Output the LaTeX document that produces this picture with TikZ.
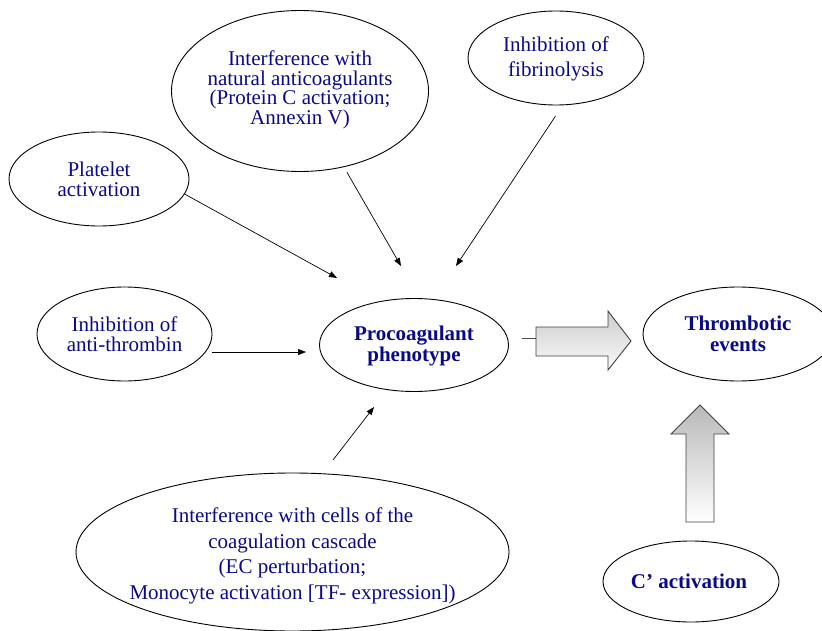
\documentclass[tikz,border=0pt]{standalone}
\usepackage{fontspec}
\setmainfont{Liberation Serif}
\usetikzlibrary{shapes.geometric,arrows.meta}
\definecolor{navy}{RGB}{10,10,135}
\begin{document}
\begin{tikzpicture}[x=1pt,y=-1pt,
 ell/.style={ellipse, draw=black, line width=0.9pt, inner sep=0pt},
 txt/.style={text=navy, align=center, font=\fontsize{21}{20.5}\selectfont, inner sep=0pt},
 btxt/.style={text=navy, align=center, font=\fontsize{21}{20.5}\selectfont\bfseries, inner sep=0pt},
 conn/.style={-{Triangle[length=8pt,width=6pt]}, line width=0.7pt, black},
 blk/.style={draw=black!75, line width=0.9pt}]
\useasboundingbox (0,0) rectangle (822,631);
\clip (0,0) rectangle (822,631);

% ellipses
\node[ell, minimum width=257pt, minimum height=161pt] (nat) at (300,91) {};
\node[txt, font=\fontsize{21}{19.5}\selectfont] at (300,90) {Interference with\\natural anticoagulants\\(Protein C activation;\\Annexin V)};
\node[ell, minimum width=176pt, minimum height=94pt] (fib) at (556,58) {};
\node[txt, font=\fontsize{21}{25}\selectfont] at (556,59) {Inhibition of\\fibrinolysis};
\node[ell, minimum width=180pt, minimum height=94pt] (plt) at (99,179) {};
\node[txt, font=\fontsize{21}{20}\selectfont] at (plt) {Platelet\\activation};
\node[ell, minimum width=175pt, minimum height=94pt] (ath) at (124.5,334) {};
\node[txt, font=\fontsize{21}{20}\selectfont] at (ath) {Inhibition of\\anti-thrombin};
\node[ell, minimum width=189pt, minimum height=93pt] (proc) at (414,345) {};
\node[btxt] at (414,346) {Procoagulant\\phenotype};
\node[ell, minimum width=190pt, minimum height=94pt] (thr) at (738,334) {};
\node[btxt] at (thr) {Thrombotic\\events};
\node[ell, minimum width=433pt, minimum height=158pt] (cel) at (292.5,552) {};
\node[txt, font=\fontsize{21}{25.7}\selectfont] at (292.5,556) {Interference with cells of the\\coagulation cascade\\(EC perturbation;\\Monocyte activation [TF- expression])};
\node[ell, minimum width=176pt, minimum height=81pt] (cact) at (691,581.5) {};
\node[btxt] at (689,581.5) {C’ activation};

% connector end points
\coordinate (t1) at (337,278);
\coordinate (t2) at (401,266);
\coordinate (t3) at (456,266);
\coordinate (t4) at (306,352);
\coordinate (s5) at (333,460);
\coordinate (t5) at (374,407);

\draw[conn] (plt.-10) -- (t1);
\draw[conn, shorten <=6pt] (nat.-60) -- (t2);
\draw[conn, shorten <=13pt] (fib.-82) -- (t3);
\draw[conn] ([yshift=-18pt]ath.east) -- (t4);
\draw[conn] (s5) -- (t5);

% block arrows
\draw[blk, black!70] (522,338) -- (536,338);
\shadedraw[blk, top color=gray!40, bottom color=gray!4]
  (536,327) -- (608,327) -- (608,311) -- (631,341) -- (608,370) -- (608,356) -- (536,356) -- cycle;
\shadedraw[blk, top color=gray!55, bottom color=white]
  (686,522) -- (686,434) -- (671,434) -- (700,405) -- (729,434) -- (714,434) -- (714,522) -- cycle;
\end{tikzpicture}
\end{document}
